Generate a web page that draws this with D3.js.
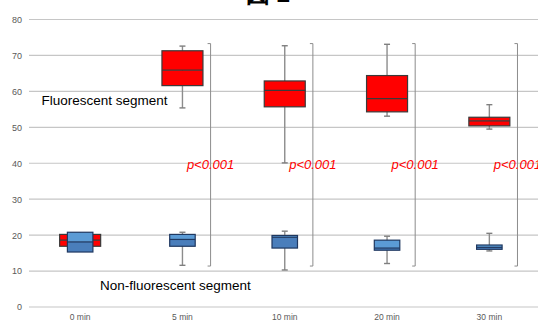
<!DOCTYPE html>
<html>
<head>
<meta charset="utf-8">
<script src="https://cdn.jsdelivr.net/npm/d3@7"></script>
<style>
  body { margin: 0; background: #fff; overflow: hidden; }
  text { font-family: "Liberation Sans", Arial, sans-serif; }
</style>
</head>
<body>
<script>
// categories on the x axis
let categories = ["0 min", "5 min", "10 min", "20 min", "30 min"];
let yTicks = [0, 10, 20, 30, 40, 50, 60, 70, 80];

// fluorescent segment (red boxes)
let fluorMin = [16.9, 55.4, 40.1, 53.1, 49.5];
let fluorQ1 = [16.9, 61.6, 55.7, 54.3, 50.4];
let fluorMed = [18.6, 65.9, 60.3, 58.0, 51.8];
let fluorQ3 = [20.2, 71.3, 62.9, 64.4, 52.8];
let fluorMax = [20.2, 72.6, 72.7, 73.1, 56.3];

// non-fluorescent segment (blue boxes)
let nonMin = [15.3, 11.6, 10.3, 12.1, 15.6];
let nonQ1 = [15.3, 16.9, 16.4, 15.8, 16.05];
let nonMed = [18.1, 18.8, 19.4, 16.4, 16.6];
let nonQ3 = [20.8, 20.2, 19.9, 18.6, 17.25];
let nonMax = [20.8, 20.8, 21.1, 19.7, 20.5];

// significance brackets
let pCategories = ["5 min", "10 min", "20 min", "30 min"];
let pLabels = ["p<0.001", "p<0.001", "p<0.001", "p<0.001"];
let bracketTop = 73.3;
let bracketBottom = 11.4;
let pLabelY = 38.4;

let width = 538;
let height = 323;

let x = d3
  .scaleBand()
  .domain(categories)
  .range([29, 540.5]);

let y = d3
  .scaleLinear()
  .domain([0, 80])
  .range([307, 19.5]);

let cx = c => x(c) + x.bandwidth() / 2;

let graph = d3
  .select("body")
  .append("svg")
  .attr("width", width)
  .attr("height", height);

// cropped title at the top
graph
  .append("text")
  .attr("x", 246)
  .attr("y", 2)
  .attr("font-family", "Noto Sans CJK JP")
  .attr("font-weight", "bold")
  .attr("font-size", 24)
  .attr("fill", "#000")
  .text("図 2");

// gridlines
graph
  .append("g")
  .selectAll("line")
  .data(yTicks)
  .enter()
  .append("line")
  .attr("x1", 29)
  .attr("x2", width)
  .attr("y1", d => y(d))
  .attr("y2", d => y(d))
  .attr("stroke", "#c6c6c6")
  .attr("stroke-width", 1.2);

// y axis labels
let yAxis = g =>
  g
    .attr("transform", "translate(22,0)")
    .call(d3.axisLeft(y).tickValues(yTicks).tickSize(0).tickPadding(0))
    .call(g => g.select(".domain").remove())
    .call(g =>
      g
        .selectAll("text")
        .attr("fill", "#595959")
        .attr("font-size", 9)
        .attr("font-family", "Liberation Sans, Arial, sans-serif")
    );

// x axis labels
let xAxis = g =>
  g
    .attr("transform", "translate(0,314)")
    .call(d3.axisBottom(x).tickSize(0).tickPadding(0))
    .call(g => g.select(".domain").remove())
    .call(g =>
      g
        .selectAll("text")
        .attr("fill", "#595959")
        .attr("font-size", 8.5)
        .attr("font-family", "Liberation Sans, Arial, sans-serif")
    );

graph.append("g").call(yAxis);
graph.append("g").call(xAxis);

// box plot drawer
let boxes = (series, boxWidth, opts) => {
  let g = graph.append("g");
  let item = g
    .selectAll("g")
    .data(series)
    .enter()
    .append("g");

  // whisker
  item
    .append("line")
    .attr("x1", d => cx(d.cat))
    .attr("x2", d => cx(d.cat))
    .attr("y1", d => y(d.max))
    .attr("y2", d => y(d.min))
    .attr("stroke", "#8c8c8c")
    .attr("stroke-width", 1.4);

  ["min", "max"].forEach(k => {
    item
      .filter(d => d.max > d.q3 || d.min < d.q1)
      .append("line")
      .attr("x1", d => cx(d.cat) - 3)
      .attr("x2", d => cx(d.cat) + 3)
      .attr("y1", d => y(d[k]))
      .attr("y2", d => y(d[k]))
      .attr("stroke", "#7f7f7f")
      .attr("stroke-width", 1.4);
  });

  // upper half of box
  item
    .append("rect")
    .attr("x", d => cx(d.cat) - boxWidth / 2)
    .attr("width", boxWidth)
    .attr("y", d => y(d.q3))
    .attr("height", d => y(d.med) - y(d.q3))
    .attr("fill", opts.upper);

  // lower half of box
  item
    .append("rect")
    .attr("x", d => cx(d.cat) - boxWidth / 2)
    .attr("width", boxWidth)
    .attr("y", d => y(d.med))
    .attr("height", d => y(d.q1) - y(d.med))
    .attr("fill", opts.lower);

  // outline
  item
    .append("rect")
    .attr("x", d => cx(d.cat) - boxWidth / 2)
    .attr("width", boxWidth)
    .attr("y", d => y(d.q3))
    .attr("height", d => y(d.q1) - y(d.q3))
    .attr("fill", "none")
    .attr("stroke", opts.stroke)
    .attr("stroke-width", 1.2);

  // median
  item
    .append("line")
    .attr("x1", d => cx(d.cat) - boxWidth / 2)
    .attr("x2", d => cx(d.cat) + boxWidth / 2)
    .attr("y1", d => y(d.med))
    .attr("y2", d => y(d.med))
    .attr("stroke", opts.stroke)
    .attr("stroke-width", 1.2);
};

let fluor = categories.map((c, i) => ({
  cat: c,
  min: fluorMin[i],
  q1: fluorQ1[i],
  med: fluorMed[i],
  q3: fluorQ3[i],
  max: fluorMax[i]
}));

let non = categories.map((c, i) => ({
  cat: c,
  min: nonMin[i],
  q1: nonQ1[i],
  med: nonMed[i],
  q3: nonQ3[i],
  max: nonMax[i]
}));

boxes(fluor, 41, { upper: "#ff0000", lower: "#ff0000", stroke: "#3a3a3a" });
boxes(non, 25.5, { upper: "#5b9bd5", lower: "#4a7ebb", stroke: "#1f3860" });

// brackets
let bx = c => cx(c) + x.step() * 0.275;

let bracket = graph
  .append("g")
  .selectAll("path")
  .data(pCategories)
  .enter()
  .append("path")
  .attr("d", c =>
    `M${bx(c) - 3},${y(bracketTop)}H${bx(c)}V${y(bracketBottom)}H${bx(c) - 3}`
  )
  .attr("fill", "none")
  .attr("stroke", "#8c8c8c")
  .attr("stroke-width", 1);

// p-value labels
graph
  .append("g")
  .selectAll("text")
  .data(pCategories)
  .enter()
  .append("text")
  .attr("x", c => bx(c))
  .attr("y", y(pLabelY))
  .attr("text-anchor", "middle")
  .attr("font-style", "italic")
  .attr("font-size", 13)
  .attr("fill", "#ff0000")
  .text((c, i) => pLabels[i]);

// segment labels
graph
  .append("text")
  .attr("x", 41.5)
  .attr("y", 105)
  .attr("font-size", 13.5)
  .attr("fill", "#000")
  .text("Fluorescent segment");

graph
  .append("text")
  .attr("x", 100)
  .attr("y", 289.5)
  .attr("font-size", 13.5)
  .attr("fill", "#000")
  .text("Non-fluorescent segment");
</script>
</body>
</html>
